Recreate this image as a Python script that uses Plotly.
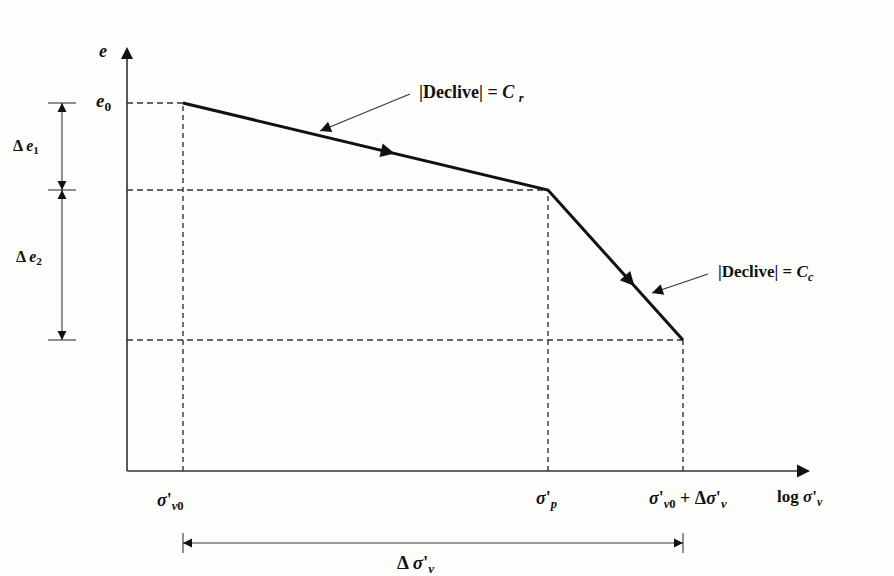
import math
import plotly.graph_objects as go

# ---- schematic data (log sigma'_v on x, void ratio e on y; arbitrary units) ----
stress_names = ["σ'v0", "σ'p", "σ'v0 + Δσ'v"]
log_sigma = [0.56, 4.21, 5.56]          # σ'v0, σ'p, σ'v0+Δσ'v
void_ratio = [3.68, 2.81, 1.31]         # e0, e at σ'p, final e
x_axis_end = 6.83
y_axis_end = 4.24
dim_x = -0.65                           # x of the Δe dimension line
dim_y = -0.72                           # y of the Δσ' dimension line
tick_labels = [
    "<b><i>σ</i>'<sub><i>v</i>0</sub></b>",
    "<b><i>σ</i>'<sub><i>p</i></sub></b>",
    "<b><i>σ</i>'<sub><i>v</i>0</sub> + Δ<i>σ</i>'<sub><i>v</i></sub></b>",
]
axis_title_x = "<b>log <i>σ</i>'<sub><i>v</i></sub></b>"
axis_title_y = "<b><i>e</i></b>"

FONT = "Liberation Serif"
BLACK = "#111111"

x0, xp, xf = log_sigma
e0, ep, ef = void_ratio

fig = go.Figure()


def line(xs, ys, width=1.5, dash="solid", color=BLACK):
    fig.add_trace(go.Scatter(x=xs, y=ys, mode="lines",
                             line=dict(color=color, width=width, dash=dash),
                             hoverinfo="skip", showlegend=False))


def head(x, y, dx, dy, size=10, color=BLACK):
    ang = math.degrees(math.atan2(-dy, dx))
    fig.add_trace(go.Scatter(x=[x], y=[y], mode="markers",
                             marker=dict(symbol="arrow-right", size=size, angle=ang,
                                         color=color, line=dict(width=0)),
                             hoverinfo="skip", showlegend=False))


# axes
line([0, 0], [0, y_axis_end - 0.05], width=1.6, color="#333333")
line([0, x_axis_end - 0.05], [0, 0], width=1.6, color="#333333")
head(0, y_axis_end, 0, 1, size=12)
head(x_axis_end, 0, 1, 0, size=13)

# dashed guide lines
for xv, ev in zip(log_sigma, void_ratio):
    line([0, xv], [ev, ev], width=1.4, dash="6px,4px", color="#333333")
    line([xv, xv], [0, ev], width=1.4, dash="5px,4px", color="#333333")

# e - log sigma curve
line(log_sigma, void_ratio, width=3, color=BLACK)
t1 = 0.58
head(x0 + t1 * (xp - x0), e0 + t1 * (ep - e0), xp - x0, ep - e0, size=14)
t2 = 0.64
head(xp + t2 * (xf - xp), ep + t2 * (ef - ep), xf - xp, ef - ep, size=14)

# left dimension (Δe1, Δe2)
line([dim_x, dim_x], [ef, e0], width=1.1, color="#333333")
for ev in void_ratio:
    line([dim_x - 0.14, dim_x + 0.14], [ev, ev], width=1.1, color="#333333")
head(dim_x, e0, 0, 1, size=9)
head(dim_x, ep, 0, -1, size=9)
head(dim_x, ep, 0, 1, size=9)
head(dim_x, ef, 0, -1, size=9)

# bottom dimension (Δσ'v)
line([x0, xf], [dim_y, dim_y], width=1.1, color="#333333")
for xv in (x0, xf):
    line([xv, xv], [dim_y + 0.1, dim_y - 0.1], width=1.1, color="#333333")
head(x0, dim_y, -1, 0, size=9)
head(xf, dim_y, 1, 0, size=9)

# pointer arrows for the slope labels
cr_tail = (2.83, 3.77)
cr_tip = (1.93, 3.40)
line([cr_tail[0], cr_tip[0]], [cr_tail[1], cr_tip[1]], width=1.1, color="#333333")
head(cr_tip[0], cr_tip[1], cr_tip[0] - cr_tail[0], cr_tip[1] - cr_tail[1], size=11)
cc_tail = (5.81, 1.97)
cc_tip = (5.25, 1.78)
line([cc_tail[0], cc_tip[0]], [cc_tail[1], cc_tip[1]], width=1.1, color="#333333")
head(cc_tip[0], cc_tip[1], cc_tip[0] - cc_tail[0], cc_tip[1] - cc_tail[1], size=11)

ann = []


def text(x, y, s, size=15, xanchor="center"):
    ann.append(dict(x=x, y=y, text=s, showarrow=False, xanchor=xanchor, yanchor="middle",
                    font=dict(family=FONT, size=size, color=BLACK)))


text(-0.24, 4.20, axis_title_y, size=18)
text(-0.235, e0 + 0.01, "<b><i>e</i><sub>0</sub></b>", size=19)
text(-1.01, 3.25, "<b>Δ <i>e</i><sub>1</sub></b>", size=16)
text(-0.98, 2.14, "<b>Δ <i>e</i><sub>2</sub></b>", size=16)
text(x0 - 0.13, -0.30, tick_labels[0], size=18)
text(xp - 0.02, -0.28, tick_labels[1], size=18)
text(xf + 0.05, -0.28, tick_labels[2], size=18)
text(6.73, -0.27, axis_title_x, size=17)
text(2.89, -0.93, "<b>Δ <i>σ</i>'<sub><i>v</i></sub></b>", size=19)
text(3.44, 3.78, "<b>|Declive| = <i>C</i> <sub><i>r</i></sub></b>", size=18)
text(6.39, 1.98, "<b>|Declive| = <i>C<sub>c</sub></i></b>", size=17)

fig.update_layout(
    width=894, height=576, autosize=False,
    margin=dict(l=0, r=0, t=0, b=0, pad=0),
    paper_bgcolor="#fdfefc", plot_bgcolor="#fdfefc",
    xaxis=dict(range=[-1.27, 7.67], visible=False, fixedrange=True),
    yaxis=dict(range=[-1.05, 4.71], visible=False, fixedrange=True),
    annotations=ann,
    showlegend=False,
)

fig.write_html("out.html")
